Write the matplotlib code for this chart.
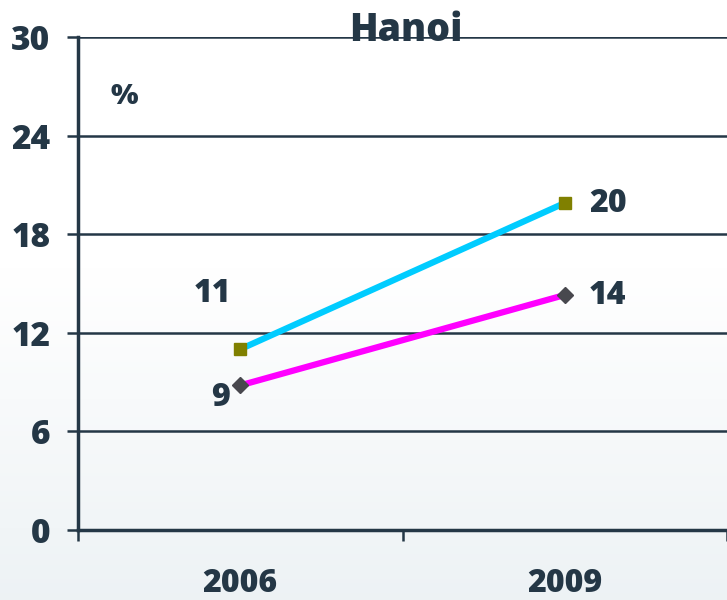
import numpy as np
import matplotlib.pyplot as plt

# data
years = ['2006', '2009']
seriesA = [11.0, 19.9]   # cyan line, square markers
seriesB = [8.8, 14.3]    # magenta line, diamond markers
yTicks = [0, 6, 12, 18, 24, 30]

txtColor = '#243746'
wt = 800
plt.rcParams['font.family'] = ['Open Sans', 'DejaVu Sans']
plt.rcParams['font.weight'] = wt

fig = plt.figure(figsize=[7.27, 6.0], dpi=100)

# soft gradient background (white at top, pale blue-grey at bottom)
bg = fig.add_axes([0, 0, 1, 1], zorder=0)
grad = np.linspace(0, 1, 256).reshape(-1, 1)
grad = np.clip((grad - 0.45) / 0.55, 0, 1)
top = np.array([1.0, 1.0, 1.0])
bot = np.array([0.93, 0.95, 0.96])
img = top + grad[..., None] * (bot - top)
bg.imshow(img, aspect='auto', extent=[0, 1, 0, 1], origin='upper')
bg.axis('off')

ax = fig.add_axes([78/727, 70/600, 1 - 78/727, (530 - 37)/600], zorder=1)
ax.patch.set_alpha(0)

x = np.arange(len(years))
ax.plot(x, seriesA, color='#00ccff', lw=4.5, marker='s', ms=9,
        mfc='#808000', mec='#808000', zorder=3, clip_on=False)
ax.plot(x, seriesB, color='#ff00ff', lw=4.5, marker='D', ms=8,
        mfc='#48484e', mec='#48484e', zorder=3, clip_on=False)

# value labels
offsA = [(-20, 40), (31, -1)]
offsB = [(-14, -9), (31, -1)]
for i in range(len(years)):
    ax.annotate('%d' % round(seriesA[i]), (x[i], seriesA[i]), xytext=offsA[i],
                textcoords='offset points', ha='center', va='center',
                fontsize=23, fontweight=wt, color=txtColor)
    ax.annotate('%d' % round(seriesB[i]), (x[i], seriesB[i]), xytext=offsB[i],
                textcoords='offset points', ha='center', va='center',
                fontsize=23, fontweight=wt, color=txtColor)

ax.set_xlim(-0.5, 1.49)
ax.set_ylim(0, 30)
ax.set_yticks(yTicks)
ax.yaxis.grid(True, color=txtColor, lw=1.8)
ax.set_axisbelow(True)

# category boundaries as ticks, names centred between them
ax.set_xticks([-0.5, 0.5, 1.5])
ax.set_xticklabels([])
ax.set_xticks(x, minor=True)
ax.set_xticklabels(years, minor=True)
ax.tick_params(axis='x', which='minor', length=0, pad=27,
               labelsize=23, labelcolor=txtColor)
ax.tick_params(axis='x', which='major', length=8, width=1.8,
               color=txtColor, direction='out')
ax.tick_params(axis='y', length=8, width=1.8, color=txtColor, pad=12,
               labelsize=24, labelcolor=txtColor)

for s in ['top', 'right']:
    ax.spines[s].set_visible(False)
for s in ['left', 'bottom']:
    ax.spines[s].set_color(txtColor)
    ax.spines[s].set_linewidth(2.5)

ax.text(0.071, 0.88, '%', transform=ax.transAxes, fontsize=21,
        fontweight=wt, color=txtColor, ha='center', va='center')
fig.text(406/727, 1 - 41/600, 'Hanoi', fontsize=27, fontweight=wt,
         color=txtColor, ha='center', va='baseline', zorder=5)

fig.savefig('out.png', dpi=100)
